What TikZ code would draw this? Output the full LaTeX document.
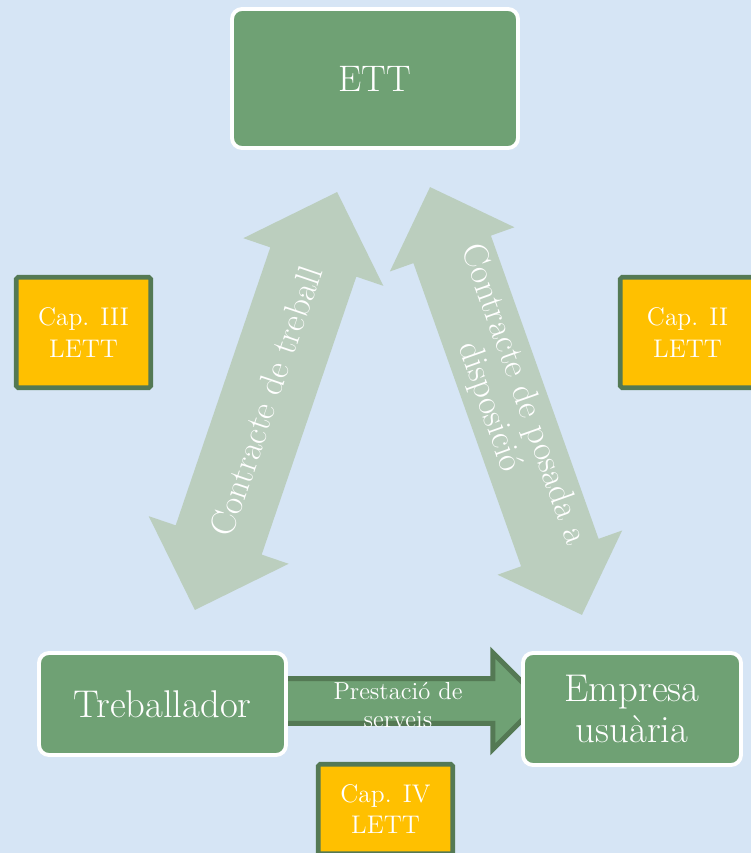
\documentclass[tikz,border=0pt]{standalone}
\usetikzlibrary{shapes.arrows}

\definecolor{slidebg}{RGB}{214,229,245}
\definecolor{boxgreen}{RGB}{111,161,116}
\definecolor{darkgreen}{RGB}{84,121,84}
\definecolor{capyellow}{RGB}{255,192,0}
\definecolor{arrowgray}{RGB}{187,206,190}

\begin{document}
\begin{tikzpicture}[
		party/.style={draw=white, line width=2.2pt, fill=boxgreen, rounded corners=0.2cm,
				text=white, align=center, font=\fontsize{22}{23}\selectfont},
		capbox/.style={draw=darkgreen, line width=2.6pt, fill=capyellow, rounded corners=1pt,
				text=white, align=center, minimum width=2.69cm, minimum height=2.21cm,
				font=\fontsize{14.5}{18}\selectfont},
		contract/.style={double arrow, double arrow tip angle=90, fill=arrowgray,
				inner xsep=0pt, text=white, align=center, font=\fontsize{20}{20.5}\selectfont}
	]
		\useasboundingbox (0, 0) rectangle (15.02, 17.06);
		\clip (0, 0) rectangle (15.02, 17.06);
		\fill[slidebg] (0, 0) rectangle (15.02, 17.06);

		% contracts
		\node[contract, rotate=71.2, minimum height=8.83cm, minimum width=2.94cm, inner ysep=18.5pt,
			double arrow head extend=0.57cm] (treball) at (5.32, 9.04) {Contracte de treball};
		\node[contract, rotate=-70.45, minimum height=9.08cm, minimum width=2.64cm, inner ysep=4pt,
			double arrow head extend=0.5cm] (posada) at (10.12, 9.04) {Contracte de posada a\\disposició};

		% services
		\node[single arrow, single arrow tip angle=90, draw=darkgreen, line width=2.8pt, fill=boxgreen,
			inner xsep=0pt, inner ysep=11.3pt, minimum height=5.2cm, minimum width=1.84cm,
			single arrow head extend=0.52cm] (serveis) at (8.0, 3.04) {};
		\node[text=white, align=center, font=\fontsize{14}{16}\selectfont] (servlbl) at (7.96, 2.96) {Prestació de\\serveis};

		% parties
		\node[party, minimum width=5.72cm, minimum height=2.78cm, font=\fontsize{21}{23}\selectfont] (ett) at (7.5, 15.49) {ETT};
		\node[party, minimum width=4.94cm, minimum height=2.04cm] (treb) at (3.25, 2.98) {Treballador};
		\node[party, minimum width=4.36cm, minimum height=2.24cm] (emp) at (12.64, 2.88) {Empresa\\usuària};

		% chapters
		\node[capbox] (cap3) at (1.67, 10.41) {Cap. III\\LETT};
		\node[capbox] (cap2) at (13.75, 10.41) {Cap. II\\LETT};
		\node[capbox, minimum height=1.79cm] (cap4) at (7.71, 0.88) {Cap. IV\\LETT};
	\end{tikzpicture}
\end{document}
